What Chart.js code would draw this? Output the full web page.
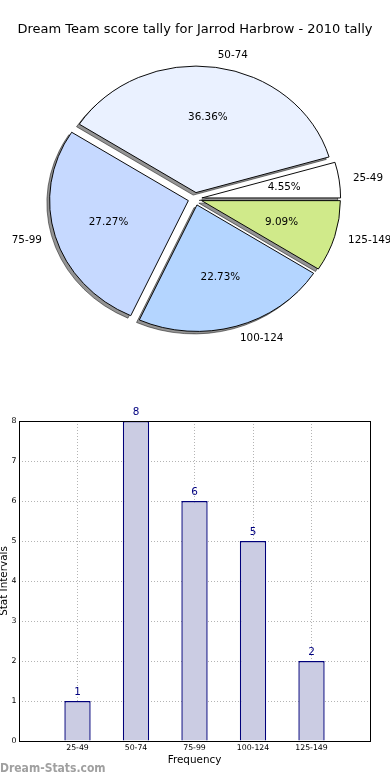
<!DOCTYPE html>
<html>
<head>
<meta charset="utf-8">
<script src="https://cdn.jsdelivr.net/npm/chart.js@4.4.1/dist/chart.umd.min.js"></script>
<style>
  html, body { margin: 0; padding: 0; background: #fff; }
  #wrap { position: relative; width: 390px; height: 780px; overflow: hidden; background: #fff; }
  #pie { position: absolute; left: 0; top: 0; }
  #bar { position: absolute; left: 0; top: 400px; }
  #mark { position: absolute; left: 0; top: 761px; font-family: "DejaVu Sans Condensed", "DejaVu Sans", sans-serif;
          font-size: 12px; font-weight: bold; color: #a0a0a0; white-space: nowrap; }
</style>
</head>
<body>
<div id="wrap">
  <canvas id="pie" width="390" height="400"></canvas>
  <canvas id="bar" width="390" height="380"></canvas>
  <div id="mark">Dream-Stats.com</div>
</div>
<script>
// ---- data ----
const chartTitle = 'Dream Team score tally for Jarrod Harbrow - 2010 tally';
const categories = ['25-49', '50-74', '75-99', '100-124', '125-149'];
const counts = [1, 8, 6, 5, 2];
const sliceColors = ['#ffffff', '#eaf1ff', '#c6d9ff', '#b4d5ff', '#d0ea8a'];
const yTicks = [0, 1, 2, 3, 4, 5, 6, 7, 8];
const xAxisTitle = 'Frequency';
const yAxisTitle = 'Stat Intervals';

const FONT = '"DejaVu Sans", sans-serif';
const total = counts.reduce((a, b) => a + b, 0);
const pctLabels = counts.map(v => (v / total * 100).toFixed(2) + '%');

// Pie drawn clockwise in Chart.js; reference goes counter-clockwise from 3 o'clock
const pieLabels = categories.slice().reverse();
const pieData = counts.slice().reverse();
const pieColors = sliceColors.slice().reverse();
const piePct = pctLabels.slice().reverse();

const ELLIPSE = 0.912;   // vertical squash of the pie
const EXPLODE = 0.05;    // explode fraction of radius

function pieCenter(chart) {
  const a = chart.chartArea;
  return { cx: (a.left + a.right) / 2, cy: (a.top + a.bottom) / 2 };
}

const piePlugin = {
  id: 'piePlugin',
  afterUpdate(chart) {
    const { cx, cy } = pieCenter(chart);
    chart.getDatasetMeta(0).data.forEach(el => {
      const mid = (el.startAngle + el.endAngle) / 2;
      const d = el.outerRadius * EXPLODE;
      el.x = cx + Math.cos(mid) * d;
      el.y = cy + Math.sin(mid) * d;
    });
  },
  beforeDatasetsDraw(chart) {
    const ctx = chart.ctx;
    const { cy } = pieCenter(chart);
    ctx.save();
    ctx.translate(0, cy); ctx.scale(1, ELLIPSE); ctx.translate(0, -cy);
    // shadows
    ctx.save();
    ctx.translate(-2.8, 2.5 / ELLIPSE);
    chart.getDatasetMeta(0).data.forEach(el => {
      ctx.beginPath();
      ctx.moveTo(el.x, el.y);
      ctx.arc(el.x, el.y, el.outerRadius, el.startAngle, el.endAngle);
      ctx.closePath();
      ctx.fillStyle = 'rgba(0,0,0,0.42)';
      ctx.fill();
      ctx.strokeStyle = 'rgba(0,0,0,0.5)';
      ctx.lineWidth = 1;
      ctx.stroke();
    });
    ctx.restore();
  },
  afterDatasetsDraw(chart) {
    const ctx = chart.ctx;
    ctx.restore();
    const { cy } = pieCenter(chart);
    ctx.save();
    ctx.fillStyle = '#000';
    ctx.font = '10.4px ' + FONT;
    ctx.textBaseline = 'middle';
    chart.getDatasetMeta(0).data.forEach((el, i) => {
      const mid = (el.startAngle + el.endAngle) / 2;
      const c = Math.cos(mid), s = Math.sin(mid);
      const R = el.outerRadius;
      // outer label
      let x = el.x + c * R * 1.1;
      let y = cy + (el.y + s * R * 1.1 - cy) * ELLIPSE;
      ctx.textAlign = c >= 0 ? 'left' : 'right';
      ctx.fillText(pieLabels[i], x, y);
      // percent label
      x = el.x + c * R * 0.6;
      y = cy + (el.y + s * R * 0.6 - cy) * ELLIPSE;
      ctx.textAlign = 'center';
      ctx.fillText(piePct[i], x, y);
    });
    ctx.restore();
  }
};

new Chart(document.getElementById('pie'), {
  type: 'pie',
  data: {
    labels: pieLabels,
    datasets: [{
      data: pieData,
      backgroundColor: pieColors,
      borderColor: '#000',
      borderWidth: 1,
      radius: 138.7
    }]
  },
  options: {
    responsive: false,
    animation: false,
    rotation: 90,
    layout: { padding: { top: 0, bottom: 40.1, left: 0, right: 0 } },
    plugins: {
      legend: { display: false },
      tooltip: { enabled: false },
      title: {
        display: true,
        text: chartTitle,
        color: '#000',
        font: { family: FONT, size: 13, weight: 'normal' },
        padding: { top: 22.2, bottom: 0 }
      }
    }
  },
  plugins: [piePlugin]
});

// ---- bar chart ----
const barPlugin = {
  id: 'barPlugin',
  afterDatasetsDraw(chart) {
    const ctx = chart.ctx;
    ctx.save();
    ctx.fillStyle = '#000080';
    ctx.font = '10.4px ' + FONT;
    ctx.textAlign = 'center';
    ctx.textBaseline = 'middle';
    chart.getDatasetMeta(0).data.forEach((el, i) => {
      ctx.fillText(String(counts[i]), el.x, el.y - 9);
    });
    ctx.restore();
  },
  afterDraw(chart) {
    const a = chart.chartArea;
    const ctx = chart.ctx;
    ctx.save();
    ctx.strokeStyle = '#000';
    ctx.lineWidth = 1;
    ctx.strokeRect(Math.round(a.left) + 0.5, Math.round(a.top) + 0.5,
                   Math.round(a.right - a.left), Math.round(a.bottom - a.top));
    ctx.restore();
  }
};

new Chart(document.getElementById('bar'), {
  type: 'bar',
  data: {
    datasets: [{
      data: counts.map((v, i) => ({ x: i + 1, y: v })),
      backgroundColor: '#cbcce3',
      borderColor: '#00007a',
      borderWidth: 1.4,
      barPercentage: 0.45,
      categoryPercentage: 1.0
    }]
  },
  options: {
    responsive: false,
    animation: false,
    layout: { padding: { top: 21, right: 20, bottom: 13, left: 0 } },
    plugins: { legend: { display: false }, tooltip: { enabled: false } },
    scales: {
      x: {
        type: 'linear',
        offset: false,
        min: 0, max: categories.length + 1,
        z: 1,
        afterBuildTicks(scale) {
          scale.ticks = categories.map((c, i) => ({ value: i + 1 }));
        },
        afterFit(scale) { scale.height = 26; },
        ticks: {
          stepSize: 1,
          autoSkip: false,
          maxRotation: 0,
          padding: 2,
          color: '#000',
          font: { family: FONT, size: 7.8 },
          callback: v => categories[v - 1] || ''
        },
        grid: { color: '#b4b4b4', lineWidth: 1, drawTicks: false, offset: false },
        border: { display: false, dash: [1, 2] },
        title: {
          display: true, text: xAxisTitle, color: '#000',
          font: { family: FONT, size: 10.4 },
          padding: { top: 0, bottom: 0.8 }
        }
      },
      y: {
        min: yTicks[0], max: yTicks[yTicks.length - 1],
        z: 1,
        afterBuildTicks(scale) {
          scale.ticks = yTicks.map(v => ({ value: v }));
        },
        afterFit(scale) { scale.width = 19; },
        ticks: {
          stepSize: 1,
          padding: 2.5,
          color: '#000',
          font: { family: FONT, size: 7.8 }
        },
        grid: { color: '#b4b4b4', lineWidth: 1, drawTicks: false },
        border: { display: false, dash: [1, 2] },
        title: {
          display: true, text: yAxisTitle, color: '#000',
          font: { family: FONT, size: 10.4, lineHeight: 0.8 },
          padding: 0
        }
      }
    }
  },
  plugins: [barPlugin]
});
</script>
</body>
</html>
